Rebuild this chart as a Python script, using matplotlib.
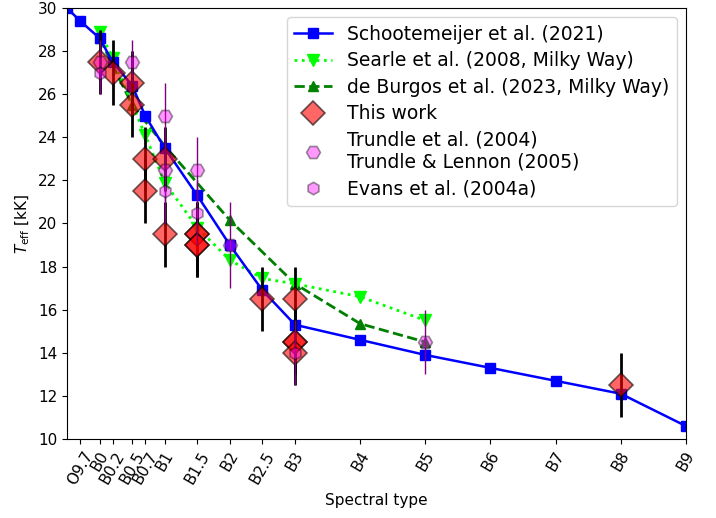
import matplotlib
matplotlib.use('Agg')
import matplotlib.pyplot as plt
import numpy as np


# SPECTRAL TYPE AXIS (B0 = 0, B1 = 1, ..., O9.7 = -0.3)
tick_pos = [-0.3, 0, 0.2, 0.5, 0.7, 1, 1.5, 2, 2.5, 3, 4, 5, 6, 7, 8, 9]
tick_lab = ['O9.7', 'B0', 'B0.2', 'B0.5', 'B0.7', 'B1', 'B1.5', 'B2', 'B2.5', 'B3',
            'B4', 'B5', 'B6', 'B7', 'B8', 'B9']

# SCHOOTEMEIJER ET AL. (2021)
sch_x = [-0.5, -0.3, 0, 0.2, 0.5, 0.7, 1, 1.5, 2, 2.5, 3, 4, 5, 6, 7, 8, 9]
sch_t = [30.0, 29.4, 28.6, 27.5, 26.4, 25.0, 23.5, 21.3, 19.0, 16.9, 15.3, 14.6, 13.9, 13.3, 12.7, 12.1, 10.6]

# SEARLE ET AL. (2008)
sea_x = [0, 0.2, 0.7, 1, 1.5, 2, 2.5, 3, 4, 5]
sea_t = [28.9, 27.7, 24.1, 21.9, 19.8, 18.3, 17.45, 17.2, 16.6, 15.5]

# DE BURGOS ET AL. (2023)
dbu_x = [0, 0.5, 1, 2, 3, 4, 5]
dbu_t = [28.6, 25.5, 23.6, 20.15, 17.2, 15.35, 14.5]

# THIS WORK
tw_x = [0, 0.2, 0.5, 0.5, 0.7, 0.7, 1, 1, 1.5, 1.5, 1.5, 1.5, 2.5, 3, 3, 3, 3, 8]
tw_t = [27.5, 27.0, 26.5, 25.5, 23.0, 21.5, 23.0, 19.5, 19.5, 19.5, 19.0, 19.0, 16.5, 16.5, 14.5, 14.5, 14.0, 12.5]
tw_e = [1.5] * len(tw_x)

# TRUNDLE ET AL. (2004), TRUNDLE & LENNON (2005)
tru_x = [0, 0.5, 1, 1, 1.5, 2, 5]
tru_t = [27.5, 27.5, 25.0, 22.5, 22.5, 19.0, 14.5]
tru_e = [1.0, 1.0, 1.5, 1.5, 1.5, 2.0, 1.5]

# EVANS ET AL. (2004a)
eva_x = [0, 1, 1.5, 3]
eva_t = [27.0, 21.5, 20.5, 14.0]
eva_e = [1.0, 1.5, 1.5, 1.5]


fig, ax = plt.subplots(figsize=(7.16, 5.18), dpi=100)
fig.subplots_adjust(left=0.0936, right=0.958, bottom=0.1525, top=0.9846)

ax.plot(sch_x, sch_t, color='blue', marker='s', markersize=7, linewidth=1.8,
        label='Schootemeijer et al. (2021)', zorder=2.5)
ax.plot(sea_x, sea_t, color='lime', marker='v', markersize=8, linewidth=2, linestyle=':',
        label='Searle et al. (2008, Milky Way)', zorder=2.2)
ax.plot(dbu_x, dbu_t, color='green', marker='^', markersize=7, linewidth=2, linestyle='--',
        label='de Burgos et al. (2023, Milky Way)', zorder=2.1)

# error bars first, markers on top with alpha
ax.errorbar(tw_x, tw_t, yerr=tw_e, fmt='none', ecolor='black', elinewidth=2, zorder=3)
ax.plot(tw_x, tw_t, linestyle='none', marker='D', markersize=12, color='red',
        markeredgecolor='black', markeredgewidth=1.2, alpha=0.6, label='This work', zorder=3)

ax.errorbar(tru_x, tru_t, yerr=tru_e, fmt='none', ecolor='purple', elinewidth=1, zorder=3)
ax.plot(tru_x, tru_t, linestyle='none', marker='H', markersize=10, color='magenta',
        markeredgecolor='black', markeredgewidth=1.2, alpha=0.4,
        label='Trundle et al. (2004)\nTrundle & Lennon (2005)', zorder=3)

ax.errorbar(eva_x, eva_t, yerr=eva_e, fmt='none', ecolor='purple', elinewidth=1, zorder=3)
ax.plot(eva_x, eva_t, linestyle='none', marker='h', markersize=9, color='magenta',
        markeredgecolor='black', markeredgewidth=1.2, alpha=0.4,
        label='Evans et al. (2004a)', zorder=3)

ax.set_xlim(-0.5, 9)
ax.set_ylim(10, 30)
ax.set_xticks(tick_pos)
ax.set_xticklabels(tick_lab, rotation=60)
ax.set_yticks(np.arange(10, 31, 2))
ax.tick_params(labelsize=11)

ax.set_xlabel('Spectral type', fontsize=11)
ax.set_ylabel(r'$T_{\rm eff}$ [kK]', fontsize=11)

ax.legend(loc='upper right', fontsize=13.5, labelspacing=0.4)

fig.savefig('out.png', dpi=100)
